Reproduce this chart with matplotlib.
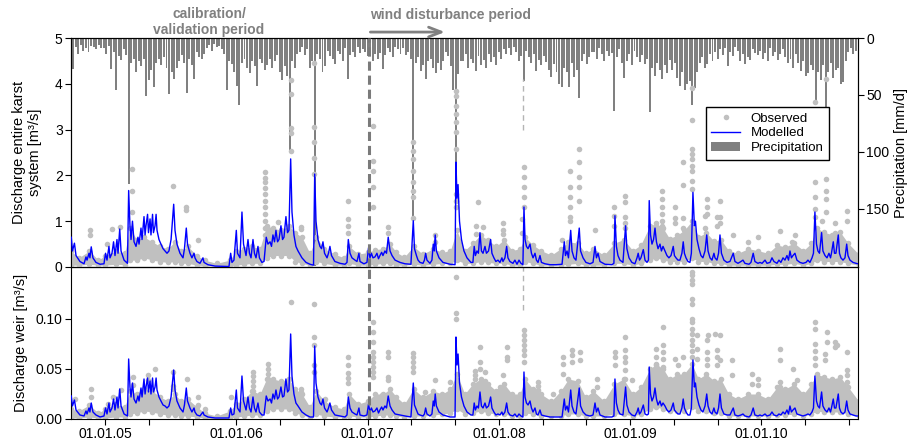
"""Karst discharge: modelled vs observed, entire system and weir, with daily precipitation.

Time is kept in decimal years throughout; tick labels are written as dd.mm.yy.
Saves out.png (914 x 443 px).
"""
import numpy as np
import matplotlib.pyplot as plt
from matplotlib.lines import Line2D
from matplotlib.patches import Patch

plt.rcParams["font.family"] = ["Liberation Sans", "DejaVu Sans"]
plt.rcParams["path.simplify"] = False  # keep the one-day spikes at full height

# ---------------------------------------------------------------- data
# modelled discharge (turning points of the simulated hydrograph)
model_t = [
    2004.743, 2004.752, 2004.767, 2004.779, 2004.809, 2004.840, 2004.855, 2004.863, 2004.878, 2004.885,
    2004.895, 2004.908, 2004.931, 2004.962, 2004.992, 2005.004, 2005.015, 2005.030, 2005.038, 2005.053,
    2005.065, 2005.076, 2005.091, 2005.099, 2005.112, 2005.122, 2005.145, 2005.171, 2005.180, 2005.190,
    2005.198, 2005.209, 2005.221, 2005.236, 2005.251, 2005.259, 2005.274, 2005.282, 2005.297, 2005.305,
    2005.312, 2005.324, 2005.331, 2005.343, 2005.350, 2005.362, 2005.369, 2005.381, 2005.389, 2005.396,
    2005.411, 2005.426, 2005.442, 2005.457, 2005.472, 2005.487, 2005.503, 2005.523, 2005.533, 2005.548,
    2005.571, 2005.594, 2005.605, 2005.619, 2005.628, 2005.647, 2005.662, 2005.678, 2005.685, 2005.700,
    2005.723, 2005.746, 2005.754, 2005.784, 2005.838, 2005.944,
    2005.957, 2005.967, 2005.982, 2006.000, 2006.009, 2006.028, 2006.043, 2006.055, 2006.074, 2006.089,
    2006.100, 2006.112, 2006.127, 2006.138, 2006.150, 2006.165, 2006.176, 2006.195, 2006.211, 2006.228,
    2006.241, 2006.257, 2006.268, 2006.279, 2006.291, 2006.302, 2006.314, 2006.325, 2006.340, 2006.352,
    2006.363, 2006.378, 2006.390, 2006.401, 2006.414, 2006.424, 2006.439, 2006.454, 2006.470, 2006.500,
    2006.531, 2006.561, 2006.588, 2006.597, 2006.607, 2006.622, 2006.637, 2006.649, 2006.660, 2006.672,
    2006.691, 2006.702, 2006.713, 2006.725, 2006.751, 2006.790, 2006.828,
    2006.843, 2006.853, 2006.866, 2006.881, 2006.904, 2006.919, 2006.934, 2006.942, 2006.972, 2006.995,
    2007.007, 2007.018, 2007.029, 2007.041, 2007.056, 2007.071, 2007.083, 2007.094, 2007.107, 2007.117,
    2007.132, 2007.144, 2007.157, 2007.171, 2007.186, 2007.209, 2007.247, 2007.285, 2007.330, 2007.348,
    2007.357, 2007.372, 2007.384, 2007.399, 2007.422, 2007.433, 2007.442, 2007.452, 2007.475, 2007.490,
    2007.500, 2007.508, 2007.515, 2007.524, 2007.544, 2007.574, 2007.628, 2007.666, 2007.673, 2007.681,
    2007.689, 2007.700, 2007.715, 2007.734, 2007.757, 2007.787, 2007.802, 2007.812, 2007.821, 2007.833,
    2007.844, 2007.856, 2007.867, 2007.879, 2007.894, 2007.905, 2007.921, 2007.937, 2007.947, 2007.962,
    2007.977, 2007.993, 2008.008, 2008.023, 2008.031, 2008.046, 2008.059, 2008.069, 2008.084, 2008.107,
    2008.122, 2008.138, 2008.153, 2008.168, 2008.183, 2008.191, 2008.199, 2008.210, 2008.222, 2008.237,
    2008.248, 2008.260, 2008.275, 2008.286, 2008.298, 2008.313, 2008.324, 2008.351, 2008.389, 2008.435,
    2008.481,
    2008.498, 2008.507, 2008.519, 2008.530, 2008.547, 2008.557, 2008.572, 2008.587, 2008.612, 2008.622,
    2008.641, 2008.663, 2008.694, 2008.717, 2008.732, 2008.743, 2008.755, 2008.770, 2008.808, 2008.861,
    2008.876, 2008.884, 2008.895, 2008.907, 2008.922, 2008.945, 2008.965, 2008.975, 2008.991, 2009.013,
    2009.036, 2009.052, 2009.061, 2009.071, 2009.082, 2009.100, 2009.113, 2009.128, 2009.139, 2009.145,
    2009.155, 2009.166, 2009.178, 2009.189, 2009.200, 2009.212, 2009.227, 2009.238, 2009.250, 2009.265,
    2009.280, 2009.295, 2009.311, 2009.328, 2009.337, 2009.349, 2009.364, 2009.379, 2009.394, 2009.404,
    2009.413, 2009.425, 2009.440, 2009.455, 2009.466, 2009.478, 2009.489, 2009.497, 2009.509, 2009.524,
    2009.539, 2009.554, 2009.570, 2009.583, 2009.593, 2009.608, 2009.623, 2009.638, 2009.646, 2009.661,
    2009.673, 2009.684, 2009.695, 2009.714, 2009.737, 2009.760, 2009.785, 2009.798, 2009.821, 2009.844,
    2009.859, 2009.874, 2009.905, 2009.920, 2009.937, 2009.950, 2009.973, 2009.989, 2010.004, 2010.027,
    2010.042, 2010.065, 2010.080, 2010.095, 2010.118, 2010.133, 2010.148, 2010.164, 2010.179, 2010.194,
    2010.206, 2010.217, 2010.228, 2010.240, 2010.255, 2010.270, 2010.293, 2010.316, 2010.339, 2010.354,
    2010.369, 2010.385, 2010.396, 2010.407, 2010.419, 2010.430, 2010.442, 2010.458, 2010.468, 2010.484,
    2010.499, 2010.514, 2010.526, 2010.533, 2010.547, 2010.556, 2010.567, 2010.585, 2010.594, 2010.605,
    2010.621, 2010.636, 2010.649, 2010.659, 2010.674, 2010.697, 2010.720, 2010.735,
]
model_total = [
    0.65, 0.35, 0.52, 0.25, 0.12, 0.07, 0.22, 0.15, 0.30, 0.20,
    0.44, 0.20, 0.10, 0.06, 0.07, 0.30, 0.15, 0.45, 0.20, 0.30,
    0.55, 0.25, 0.60, 0.30, 0.83, 0.35, 0.15, 0.08, 1.67, 0.90,
    0.60, 1.00, 0.55, 0.45, 0.65, 0.50, 0.85, 0.60, 1.10, 0.70,
    0.90, 1.15, 0.75, 1.05, 0.70, 1.15, 0.75, 0.90, 1.15, 0.80,
    0.60, 0.50, 0.40, 0.35, 0.30, 0.35, 0.60, 1.37, 0.80, 0.50,
    0.30, 0.20, 0.40, 0.85, 0.50, 0.30, 0.20, 0.30, 0.20, 0.12,
    0.08, 0.20, 0.10, 0.05, 0.02, 0.01,
    0.30, 0.10, 0.15, 0.80, 0.30, 0.20, 1.20, 0.50, 0.25, 0.60,
    0.30, 0.20, 0.60, 0.30, 0.20, 0.45, 0.20, 0.10, 0.12, 0.65,
    0.50, 0.55, 0.45, 0.70, 0.55, 0.80, 0.55, 0.60, 0.90, 0.60,
    0.65, 1.10, 0.75, 0.80, 2.36, 1.20, 0.70, 0.45, 0.35, 0.20,
    0.10, 0.06, 0.04, 2.03, 1.00, 0.60, 0.45, 0.40, 0.55, 0.30,
    0.20, 0.30, 0.45, 0.25, 0.12, 0.08, 0.06,
    0.10, 0.60, 0.30, 0.20, 0.15, 0.12, 0.30, 0.12, 0.07, 0.10,
    0.42, 0.20, 0.30, 0.20, 0.22, 0.30, 0.18, 0.25, 0.32, 0.25,
    0.35, 0.30, 0.65, 0.35, 0.25, 0.15, 0.10, 0.07, 0.06, 1.01,
    0.40, 0.25, 0.15, 0.10, 0.08, 0.15, 0.30, 0.15, 0.08, 0.15,
    0.50, 0.35, 0.70, 0.35, 0.20, 0.10, 0.06, 0.05, 2.29, 1.50,
    1.80, 1.00, 0.60, 0.35, 0.20, 0.10, 0.10, 0.45, 0.25, 0.35,
    0.30, 0.75, 0.35, 0.30, 0.45, 0.30, 0.35, 0.60, 0.30, 0.20,
    0.12, 0.15, 0.10, 0.20, 0.12, 0.20, 0.45, 0.20, 0.12, 0.08,
    0.15, 0.06, 0.15, 0.08, 0.05, 1.31, 0.60, 0.45, 0.40, 0.50,
    0.30, 0.20, 0.30, 0.15, 0.10, 0.25, 0.10, 0.07, 0.05, 0.05,
    0.06,
    0.55, 0.25, 0.35, 0.20, 0.80, 0.35, 0.20, 0.15, 0.85, 0.35,
    0.20, 0.10, 0.07, 0.10, 0.45, 0.20, 0.30, 0.12, 0.06, 0.05,
    0.08, 1.12, 0.45, 0.25, 0.15, 0.10, 0.90, 0.40, 0.20, 0.10,
    0.07, 0.20, 0.30, 0.15, 0.20, 0.38, 0.15, 0.10, 0.15, 1.45,
    0.70, 0.50, 0.60, 0.85, 0.55, 0.40, 0.50, 0.35, 0.45, 0.35,
    0.25, 0.20, 0.25, 0.45, 0.25, 0.20, 0.15, 0.15, 0.30, 0.55,
    0.30, 0.20, 0.12, 0.10, 0.30, 1.63, 0.90, 1.00, 0.60, 0.40,
    0.25, 0.20, 0.35, 0.70, 0.35, 0.20, 0.15, 0.30, 0.20, 0.15,
    0.30, 0.70, 0.30, 0.15, 0.10, 0.12, 0.30, 0.12, 0.08, 0.12,
    0.15, 0.08, 0.06, 0.10, 0.30, 0.12, 0.08, 0.10, 0.08, 0.15,
    0.08, 0.10, 0.20, 0.12, 0.08, 0.15, 0.10, 0.20, 0.15, 0.25,
    0.15, 0.35, 0.20, 0.25, 0.30, 0.15, 0.10, 0.08, 0.10, 0.15,
    0.10, 0.20, 0.30, 1.20, 0.50, 0.35, 0.30, 0.75, 0.35, 0.25,
    0.20, 0.30, 0.20, 0.30, 0.55, 0.30, 0.30, 0.70, 0.30, 0.20,
    0.15, 0.20, 0.50, 0.25, 0.15, 0.10, 0.08, 0.07,
]
model_weir = [
    0.023, 0.013, 0.019, 0.009, 0.004, 0.003, 0.008, 0.005, 0.011, 0.007,
    0.016, 0.007, 0.004, 0.002, 0.003, 0.011, 0.005, 0.016, 0.007, 0.011,
    0.020, 0.009, 0.022, 0.011, 0.030, 0.013, 0.005, 0.003, 0.060, 0.032,
    0.022, 0.036, 0.020, 0.016, 0.023, 0.018, 0.031, 0.022, 0.040, 0.025,
    0.032, 0.041, 0.027, 0.038, 0.025, 0.041, 0.027, 0.032, 0.041, 0.029,
    0.022, 0.018, 0.014, 0.013, 0.011, 0.013, 0.022, 0.049, 0.029, 0.018,
    0.011, 0.007, 0.014, 0.031, 0.018, 0.011, 0.007, 0.011, 0.007, 0.004,
    0.003, 0.007, 0.004, 0.002, 0.001, 0.001,
    0.011, 0.004, 0.005, 0.029, 0.011, 0.007, 0.043, 0.018, 0.009, 0.022,
    0.011, 0.007, 0.022, 0.011, 0.007, 0.016, 0.007, 0.004, 0.004, 0.023,
    0.018, 0.020, 0.016, 0.025, 0.020, 0.029, 0.020, 0.022, 0.032, 0.022,
    0.023, 0.040, 0.027, 0.029, 0.085, 0.043, 0.025, 0.016, 0.013, 0.007,
    0.004, 0.002, 0.002, 0.073, 0.036, 0.022, 0.016, 0.014, 0.020, 0.011,
    0.007, 0.011, 0.016, 0.009, 0.004, 0.003, 0.002,
    0.004, 0.022, 0.011, 0.007, 0.005, 0.004, 0.011, 0.004, 0.003, 0.004,
    0.015, 0.007, 0.011, 0.007, 0.008, 0.011, 0.006, 0.009, 0.012, 0.009,
    0.013, 0.011, 0.023, 0.013, 0.009, 0.005, 0.004, 0.003, 0.002, 0.036,
    0.014, 0.009, 0.005, 0.004, 0.003, 0.005, 0.011, 0.005, 0.003, 0.005,
    0.018, 0.013, 0.025, 0.013, 0.007, 0.004, 0.002, 0.002, 0.082, 0.054,
    0.065, 0.036, 0.022, 0.013, 0.007, 0.004, 0.004, 0.016, 0.009, 0.013,
    0.011, 0.027, 0.013, 0.011, 0.016, 0.011, 0.013, 0.022, 0.011, 0.007,
    0.004, 0.005, 0.004, 0.007, 0.004, 0.007, 0.016, 0.007, 0.004, 0.003,
    0.005, 0.002, 0.005, 0.003, 0.002, 0.047, 0.022, 0.016, 0.014, 0.018,
    0.011, 0.007, 0.011, 0.005, 0.004, 0.009, 0.004, 0.003, 0.002, 0.002,
    0.002,
    0.020, 0.009, 0.013, 0.007, 0.029, 0.013, 0.007, 0.005, 0.031, 0.013,
    0.007, 0.004, 0.003, 0.004, 0.016, 0.007, 0.011, 0.004, 0.002, 0.002,
    0.003, 0.040, 0.016, 0.009, 0.005, 0.004, 0.032, 0.014, 0.007, 0.004,
    0.003, 0.007, 0.011, 0.005, 0.007, 0.014, 0.005, 0.004, 0.005, 0.052,
    0.025, 0.018, 0.022, 0.031, 0.020, 0.014, 0.018, 0.013, 0.016, 0.013,
    0.009, 0.007, 0.009, 0.016, 0.009, 0.007, 0.005, 0.005, 0.011, 0.020,
    0.011, 0.007, 0.004, 0.004, 0.011, 0.059, 0.032, 0.036, 0.022, 0.014,
    0.009, 0.007, 0.013, 0.025, 0.013, 0.007, 0.005, 0.011, 0.007, 0.005,
    0.011, 0.025, 0.011, 0.005, 0.004, 0.004, 0.011, 0.004, 0.003, 0.004,
    0.005, 0.003, 0.002, 0.004, 0.011, 0.004, 0.003, 0.004, 0.003, 0.005,
    0.003, 0.004, 0.007, 0.004, 0.003, 0.005, 0.004, 0.007, 0.005, 0.009,
    0.005, 0.013, 0.007, 0.009, 0.011, 0.005, 0.004, 0.003, 0.004, 0.005,
    0.004, 0.007, 0.011, 0.043, 0.018, 0.013, 0.011, 0.027, 0.013, 0.009,
    0.007, 0.011, 0.007, 0.011, 0.020, 0.011, 0.011, 0.025, 0.011, 0.007,
    0.005, 0.007, 0.018, 0.009, 0.005, 0.004, 0.003, 0.003,
]

# observed discharge: the dense cloud of daily values around the model (envelope)
obs_band_t = [
    2004.74, 2004.80, 2004.88, 2004.95, 2005.00, 2005.08, 2005.15, 2005.19, 2005.24, 2005.30,
    2005.36, 2005.42, 2005.48, 2005.53, 2005.58, 2005.63, 2005.70, 2005.76, 2005.85, 2005.95,
    2006.00, 2006.06, 2006.12, 2006.18, 2006.23, 2006.28, 2006.34, 2006.40, 2006.45, 2006.50,
    2006.56, 2006.61, 2006.67, 2006.75, 2006.82, 2006.86, 2006.93, 2007.00, 2007.06, 2007.12,
    2007.17, 2007.22, 2007.28, 2007.35, 2007.42, 2007.50, 2007.57, 2007.63, 2007.68, 2007.74,
    2007.80, 2007.86, 2007.92, 2007.98, 2008.04, 2008.10, 2008.16, 2008.20, 2008.26, 2008.32,
    2008.40, 2008.47, 2008.53, 2008.60, 2008.66, 2008.72, 2008.80, 2008.88, 2008.95, 2009.02,
    2009.08, 2009.15, 2009.20, 2009.25, 2009.30, 2009.36, 2009.41, 2009.47, 2009.52, 2009.58,
    2009.64, 2009.69, 2009.75, 2009.82, 2009.90, 2009.97, 2010.05, 2010.12, 2010.18, 2010.25,
    2010.32, 2010.38, 2010.42, 2010.48, 2010.54, 2010.60, 2010.66, 2010.74,
]
obs_total_lo = [
    0.04, 0.04, 0.06, 0.04, 0.04, 0.06, 0.05, 0.15, 0.15, 0.20,
    0.15, 0.12, 0.10, 0.12, 0.08, 0.08, 0.04, 0.03, 0.02, 0.03,
    0.04, 0.06, 0.08, 0.08, 0.20, 0.25, 0.25, 0.25, 0.12, 0.08,
    0.04, 0.12, 0.08, 0.04, 0.04, 0.08, 0.04, 0.04, 0.06, 0.08,
    0.08, 0.04, 0.04, 0.06, 0.04, 0.06, 0.08, 0.08, 0.15, 0.08,
    0.08, 0.12, 0.10, 0.08, 0.08, 0.04, 0.04, 0.12, 0.08, 0.04,
    0.04, 0.04, 0.06, 0.08, 0.04, 0.04, 0.04, 0.08, 0.08, 0.04,
    0.08, 0.15, 0.20, 0.15, 0.12, 0.12, 0.12, 0.20, 0.12, 0.12,
    0.08, 0.08, 0.04, 0.04, 0.04, 0.04, 0.04, 0.06, 0.06, 0.08,
    0.04, 0.08, 0.15, 0.12, 0.12, 0.12, 0.08, 0.04,
]
obs_total_hi = [
    0.35, 0.20, 0.35, 0.15, 0.25, 0.35, 0.30, 0.85, 0.60, 0.65,
    0.55, 0.45, 0.40, 0.55, 0.35, 0.45, 0.25, 0.15, 0.08, 0.15,
    0.35, 0.40, 0.45, 0.40, 0.90, 0.85, 0.80, 0.90, 0.75, 0.65,
    0.30, 0.65, 0.40, 0.28, 0.20, 0.45, 0.28, 0.32, 0.38, 0.40,
    0.50, 0.32, 0.22, 0.45, 0.28, 0.40, 0.32, 0.36, 0.80, 0.36,
    0.52, 0.70, 0.58, 0.45, 0.60, 0.36, 0.40, 0.65, 0.48, 0.36,
    0.26, 0.40, 0.55, 0.52, 0.30, 0.40, 0.26, 0.52, 0.60, 0.36,
    0.48, 0.90, 0.95, 0.85, 0.62, 0.70, 0.80, 1.00, 0.66, 0.75,
    0.56, 0.60, 0.36, 0.30, 0.40, 0.36, 0.30, 0.48, 0.44, 0.52,
    0.36, 0.52, 0.85, 0.76, 0.70, 0.76, 0.52, 0.28,
]
obs_weir_lo = [
    0.001, 0.001, 0.002, 0.001, 0.001, 0.002, 0.002, 0.005, 0.006, 0.008,
    0.007, 0.005, 0.004, 0.004, 0.003, 0.003, 0.002, 0.001, 0.000, 0.001,
    0.002, 0.003, 0.004, 0.004, 0.008, 0.010, 0.010, 0.010, 0.006, 0.004,
    0.002, 0.005, 0.003, 0.002, 0.002, 0.003, 0.002, 0.002, 0.003, 0.004,
    0.004, 0.003, 0.002, 0.003, 0.003, 0.004, 0.005, 0.006, 0.010, 0.005,
    0.006, 0.008, 0.006, 0.005, 0.005, 0.003, 0.003, 0.006, 0.005, 0.003,
    0.003, 0.003, 0.005, 0.005, 0.003, 0.003, 0.003, 0.005, 0.005, 0.003,
    0.005, 0.010, 0.012, 0.010, 0.008, 0.008, 0.008, 0.012, 0.008, 0.008,
    0.006, 0.006, 0.003, 0.003, 0.003, 0.003, 0.003, 0.004, 0.004, 0.005,
    0.003, 0.005, 0.008, 0.007, 0.007, 0.007, 0.005, 0.003,
]
obs_weir_hi = [
    0.010, 0.008, 0.014, 0.006, 0.010, 0.015, 0.012, 0.028, 0.025, 0.030,
    0.028, 0.022, 0.018, 0.025, 0.018, 0.020, 0.012, 0.006, 0.003, 0.008,
    0.015, 0.020, 0.028, 0.025, 0.040, 0.040, 0.038, 0.040, 0.030, 0.025,
    0.012, 0.028, 0.018, 0.012, 0.010, 0.025, 0.015, 0.018, 0.025, 0.025,
    0.030, 0.022, 0.015, 0.030, 0.022, 0.028, 0.025, 0.030, 0.045, 0.025,
    0.035, 0.040, 0.035, 0.028, 0.035, 0.025, 0.025, 0.040, 0.030, 0.025,
    0.018, 0.028, 0.040, 0.038, 0.022, 0.028, 0.018, 0.035, 0.040, 0.025,
    0.032, 0.050, 0.055, 0.050, 0.040, 0.045, 0.045, 0.055, 0.040, 0.045,
    0.038, 0.040, 0.025, 0.020, 0.025, 0.025, 0.020, 0.032, 0.030, 0.035,
    0.025, 0.035, 0.045, 0.042, 0.040, 0.042, 0.032, 0.018,
]

# observed discharge: isolated high readings, one column of dots per date
obs_total_col_t = [
    2004.885, 2005.013, 2005.051, 2005.114, 2005.202, 2005.520, 2005.617, 2005.710,
    2006.222, 2006.317, 2006.414, 2006.495, 2006.594, 2006.853, 2007.041, 2007.157,
    2007.343, 2007.512, 2007.673, 2007.827, 2007.843, 2007.881, 2008.033, 2008.173,
    2008.191, 2008.478, 2008.545, 2008.612, 2008.732, 2008.879, 2008.960, 2009.239,
    2009.341, 2009.404, 2009.474, 2009.570, 2009.583, 2009.659, 2009.684, 2009.785,
    2009.897, 2009.975, 2010.141, 2010.230, 2010.255, 2010.407, 2010.458, 2010.491,
    2010.560, 2010.649,
]
obs_total_col_v = [
    [0.80, 0.70], [0.50], [0.82], [0.87], [2.14, 1.65, 1.21], [1.77], [1.31, 1.25], [0.59],
    [2.08, 1.95, 1.85, 1.72, 1.60, 1.45, 1.30, 1.15, 1.00, 0.85, 0.70], [0.98],
    [4.08, 3.78, 3.03, 2.92, 2.54], [0.87, 0.82], [4.45, 3.06, 2.73, 2.38, 2.03],
    [1.45, 1.05, 0.90, 0.75], [3.08, 2.32, 2.10, 1.75, 1.31], [0.87, 0.75],
    [2.72, 2.54, 2.36, 2.10, 1.85, 1.67, 1.52, 1.08], [0.70, 0.55],
    [3.85, 3.74, 3.52, 3.34, 3.16, 2.94, 2.58, 1.60, 1.45, 1.30], [0.90, 0.73], [1.41], [0.87],
    [0.95, 0.80, 0.72], [1.05, 0.75], [2.18, 1.96, 1.74, 1.52, 1.30], [0.60],
    [2.10, 1.74, 1.52, 1.31, 1.10, 1.00], [2.58, 2.29, 1.96, 1.74, 1.45], [0.80],
    [1.30, 1.12, 0.90], [1.56, 1.41, 1.09, 0.95, 0.85], [1.67, 1.48, 1.30, 1.15, 1.00, 0.90, 0.80],
    [1.30, 1.08, 0.95], [2.29, 1.78, 1.08, 0.85], [3.90, 3.20, 2.58, 2.47, 2.36, 2.21, 2.10, 1.88, 1.70],
    [1.12, 0.85], [1.48, 1.30, 1.15], [1.10, 0.90], [1.45, 1.10, 0.95], [0.70],
    [0.55], [0.65], [0.78], [0.55], [0.70], [3.60, 1.85, 1.52, 1.27, 1.10], [1.00],
    [4.10, 1.93, 1.67, 1.48, 1.20], [0.95, 0.75], [1.23, 1.00],
]
obs_weir_col_t = [
    2004.769, 2004.895, 2005.023, 2005.061, 2005.124, 2005.213, 2005.327, 2005.378, 2005.518, 2005.627,
    2005.708, 2005.759, 2005.957, 2006.127, 2006.241, 2006.317, 2006.405, 2006.420, 2006.495, 2006.592,
    2006.673, 2006.853, 2007.041, 2007.107, 2007.157, 2007.346, 2007.437, 2007.513, 2007.628, 2007.673,
    2007.818, 2007.856, 2007.894, 2008.008, 2008.033, 2008.059, 2008.191, 2008.300, 2008.414, 2008.490,
    2008.554, 2008.566, 2008.618, 2008.745, 2008.884, 2008.960, 2009.011, 2009.100, 2009.200, 2009.252,
    2009.341, 2009.366, 2009.404, 2009.468, 2009.506, 2009.583, 2009.595, 2009.646, 2009.659, 2009.684,
    2009.773, 2009.925, 2009.975, 2010.141, 2010.242, 2010.267, 2010.407, 2010.460, 2010.484, 2010.496,
    2010.560, 2010.573, 2010.649,
]
obs_weir_col_v = [
    [0.020], [0.030, 0.022], [0.015], [0.022], [0.029], [0.042, 0.034], [0.044, 0.039], [0.050],
    [0.047, 0.033, 0.030], [0.040],
    [0.022, 0.014], [0.010], [0.022], [0.047, 0.043, 0.038, 0.033, 0.028],
    [0.055, 0.050, 0.045, 0.040, 0.035, 0.030], [0.034], [0.040, 0.033, 0.025], [0.117], [0.030, 0.027],
    [0.115, 0.082, 0.074, 0.054, 0.047],
    [0.020, 0.014], [0.062, 0.054, 0.046, 0.041, 0.036],
    [0.097, 0.087, 0.077, 0.067, 0.062, 0.057, 0.052, 0.047, 0.042], [0.024], [0.067, 0.062, 0.042, 0.039],
    [0.066, 0.062, 0.057, 0.052, 0.047], [0.027], [0.039], [0.037], [0.142, 0.106, 0.100],
    [0.048, 0.044, 0.040], [0.072, 0.057, 0.050], [0.047, 0.038, 0.030], [0.032, 0.029], [0.044],
    [0.072, 0.062, 0.059], [0.089, 0.084, 0.079, 0.074, 0.069, 0.064, 0.057], [0.037, 0.033, 0.029],
    [0.025], [0.062, 0.055, 0.045],
    [0.069, 0.064, 0.057], [0.034], [0.067, 0.059], [0.040, 0.032], [0.067, 0.062, 0.054],
    [0.082, 0.069, 0.062, 0.057, 0.049, 0.040], [0.039], [0.029], [0.070, 0.062, 0.054, 0.047, 0.040],
    [0.092, 0.074, 0.067, 0.060, 0.052, 0.045, 0.038],
    [0.060], [0.054], [0.062],
    [0.147, 0.144, 0.139, 0.135, 0.120, 0.115, 0.100, 0.097, 0.090, 0.085, 0.079, 0.074, 0.068, 0.062],
    [0.084, 0.070, 0.060], [0.079, 0.067, 0.060, 0.054], [0.084], [0.085], [0.069, 0.062, 0.054],
    [0.084, 0.059],
    [0.059, 0.044], [0.045, 0.035], [0.040, 0.034], [0.070, 0.059, 0.037, 0.032], [0.050], [0.039],
    [0.097, 0.090, 0.075, 0.068, 0.061, 0.054], [0.040, 0.035, 0.030], [0.065, 0.059], [0.087, 0.077],
    [0.077, 0.072], [0.074], [0.067, 0.049, 0.044, 0.037],
]

# precipitation [mm/d], highest daily value of each week, one row per quarter year
precip_start = 2004.74
precip_mm = [
    12, 27, 8, 14, 6, 11, 9, 12, 7, 8, 10, 6, 9,
    9, 14, 7, 27, 12, 46, 16, 19, 10, 15, 128, 22, 18,
    30, 20, 25, 18, 51, 37, 28, 43, 22, 18, 24, 17, 26,
    49, 30, 36, 26, 20, 15, 22, 48, 18, 24, 36, 12, 17,
    18, 14, 9, 6, 11, 5, 8, 7, 10, 14, 46, 20, 23,
    30, 42, 59, 22, 18, 26, 31, 20, 25, 42, 18, 22, 28,
    24, 18, 26, 20, 15, 30, 37, 25, 33, 98, 20, 26, 14,
    12, 8, 15, 10, 26, 20, 200, 14, 18, 30, 25, 11, 16,
    18, 23, 11, 14, 20, 9, 36, 15, 12, 17, 8, 13, 10,
    12, 16, 11, 20, 14, 18, 13, 27, 15, 9, 12, 17, 8,
    10, 14, 9, 15, 12, 18, 157, 22, 17, 29, 24, 36, 20,
    18, 26, 31, 22, 28, 20, 12, 16, 25, 46, 140, 32, 20,
    20, 14, 26, 18, 22, 29, 16, 24, 19, 26, 14, 21, 17,
    24, 12, 18, 10, 14, 9, 15, 8, 12, 20, 16, 38, 11,
    17, 22, 14, 29, 19, 24, 16, 21, 28, 34, 23, 30, 40,
    43, 26, 30, 43, 22, 34, 28, 53, 20, 14, 23, 17, 12,
    12, 18, 9, 14, 20, 11, 16, 13, 64, 17, 10, 22, 35,
    20, 14, 24, 11, 17, 21, 15, 23, 18, 65, 26, 33, 22,
    28, 36, 24, 31, 19, 28, 22, 35, 42, 30, 46, 40, 38,
    59, 44, 30, 22, 17, 26, 23, 14, 20, 12, 18, 10, 15,
    9, 25, 12, 16, 8, 11, 20, 14, 23, 17, 19, 10, 13,
    15, 11, 18, 13, 20, 9, 16, 12, 19, 14, 10, 17, 22,
    18, 26, 14, 22, 29, 20, 33, 31, 24, 28, 55, 30, 37,
    24, 67, 30, 22, 35, 28, 26, 40, 39, 20, 12, 9, 14,
    11,
]

period_start = 2007.01  # start of the wind disturbance period
gauge_gap = 2008.183  # short gauge failure (light dashed mark)
x_range = (2004.741, 2010.735)

OBS = "#c0c0c0"
MOD = "#0000ff"
PREC = "#808080"
NOTE = "#808080"


def flatten(cols_t, cols_v):
    t = [ti for ti, vs in zip(cols_t, cols_v) for _ in vs]
    v = [vi for vs in cols_v for vi in vs]
    return t, v


# ---------------------------------------------------------------- figure
fig = plt.figure(figsize=(9.14, 4.43), dpi=100)
ax = fig.add_axes([0.0777, 0.3973, 0.8610, 0.5169])
axw = fig.add_axes([0.0777, 0.0542, 0.8610, 0.3431], sharex=ax)
axp = ax.twinx()
# discharge on top of the hanging precipitation bars
ax.set_zorder(axp.get_zorder() + 1)
ax.patch.set_visible(False)

for a, lo, hi, cols_t, cols_v, model in [
    (ax, obs_total_lo, obs_total_hi, obs_total_col_t, obs_total_col_v, model_total),
    (axw, obs_weir_lo, obs_weir_hi, obs_weir_col_t, obs_weir_col_v, model_weir),
]:
    a.fill_between(obs_band_t, lo, hi, color=OBS, lw=0, zorder=1)
    a.plot(obs_band_t, hi, "o", ms=4, color=OBS, mec="none", zorder=1)
    a.plot(obs_band_t, lo, "o", ms=4, color=OBS, mec="none", zorder=1)
    st, sv = flatten(cols_t, cols_v)
    a.plot(st, sv, "o", ms=4, color=OBS, mec="none", zorder=1)
    a.plot(model_t, model, color=MOD, lw=1.0, zorder=3)
    a.axvline(period_start, color="#7a7a7a", lw=2.2, ls=(0, (3, 1.6)), zorder=4)

ax.axvline(gauge_gap, ymin=0.60, ymax=0.82, color="#b4b4b4", lw=1, ls=(0, (4, 3)), zorder=2)
axw.axvline(gauge_gap, ymin=0.72, ymax=1.0, color="#b4b4b4", lw=1, ls=(0, (4, 3)), zorder=2)

precip_t = precip_start + np.arange(len(precip_mm)) * 7 / 365.25
axp.bar(precip_t, precip_mm, width=0.015, color=PREC, lw=0)
axp.set_ylim(201, 0)
axp.set_yticks([0, 50, 100, 150])

# axes, ticks
ax.set_xlim(*x_range)
ax.set_ylim(0, 5)
ax.set_yticks([0, 1, 2, 3, 4, 5])
axw.set_ylim(0, 0.152)
axw.set_yticks([0, 0.05, 0.10])
axw.set_yticklabels(["0.00", "0.05", "0.10"])

ticks = np.arange(2005, 2010.7, 1 / 3)
axw.set_xticks(ticks)
axw.set_xticklabels([f"01.01.{int(round(y)) % 100:02d}" if abs(y - round(y)) < 1e-6 else "" for y in ticks])
ax.tick_params(axis="x", bottom=False, labelbottom=False)

for a in (ax, axw, axp):
    a.tick_params(direction="out", length=4, width=0.8, labelsize=10, pad=2)
    for s in a.spines.values():
        s.set_linewidth(0.8)

ax.set_ylabel("Discharge entire karst\nsystem [m³/s]", fontsize=10.5)
axw.set_ylabel("Discharge weir [m³/s]", fontsize=10.5)
axp.set_ylabel("Precipitation [mm/d]", fontsize=10.5, labelpad=3)
ax.yaxis.set_label_coords(-0.037, 0.5)
axw.yaxis.set_label_coords(-0.055, 0.5)

# period annotations
ax.text(2005.792, 1.07, "calibration/\nvalidation period", transform=ax.get_xaxis_transform(),
        ha="center", va="center", color=NOTE, fontsize=10, fontweight="bold", linespacing=1.15)
ax.text(2007.02, 1.10, "wind disturbance period", transform=ax.get_xaxis_transform(),
        ha="left", va="center", color=NOTE, fontsize=10, fontweight="bold")
ax.annotate("", xy=(2007.61, 1.026), xytext=(2007.0, 1.026),
            xycoords=ax.get_xaxis_transform(), textcoords=ax.get_xaxis_transform(),
            arrowprops=dict(arrowstyle="->,head_length=0.9,head_width=0.35", color=NOTE, lw=2))

handles = [
    Line2D([], [], ls="none", marker="o", ms=4, color=OBS, mec="none", label="Observed"),
    Line2D([], [], color=MOD, lw=1.0, label="Modelled"),
    Patch(facecolor=PREC, edgecolor="none", label="Precipitation"),
]
leg = ax.legend(handles=handles, loc="upper left", bbox_to_anchor=(706 / 914, 1 - 107 / 443),
                bbox_transform=fig.transFigure, borderaxespad=0, fancybox=False, framealpha=1,
                edgecolor="black", fontsize=9.5, handlelength=2.2, labelspacing=0.2, borderpad=0.4)
leg.set_zorder(10)

fig.savefig("out.png", dpi=100)
